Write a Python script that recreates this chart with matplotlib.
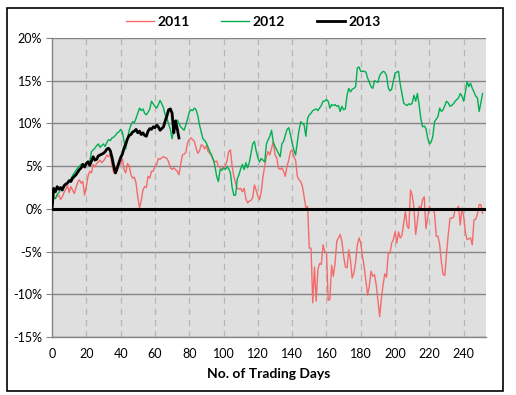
import numpy as np
import matplotlib
matplotlib.use("Agg")
import matplotlib.pyplot as plt
from matplotlib.patches import Rectangle
from matplotlib.ticker import FuncFormatter

series_names = ["2011", "2012", "2013"]

y2011 = [0.0, 1.3, 1.2, 1.5, 1.6, 1.1, 1.4, 1.9, 2.3, 2.8,
         1.9, 2.6, 2.2, 1.8, 2.5, 3.1, 3.4, 3.0, 3.2, 1.6,
         2.6, 3.8, 4.4, 4.2, 5.2, 4.9, 5.3, 5.5, 5.7, 5.4,
         5.6, 5.9, 6.3, 6.1, 6.5, 5.0, 4.2, 4.3, 4.4, 5.0,
         5.3, 5.9, 4.6, 4.2, 5.3, 5.0, 4.0, 3.6, 3.7, 3.0,
         1.4, 0.1, 0.9, 2.2, 2.6, 2.5, 3.8, 3.6, 4.4, 4.4,
         5.0, 5.2, 5.9, 5.8, 6.0, 6.1, 6.0, 5.9, 5.5, 4.8,
         4.6, 4.8, 4.6, 4.4, 4.0, 5.2, 6.3, 6.4, 6.6, 7.7,
         8.1, 8.3, 8.1, 7.9, 7.1, 6.5, 6.8, 7.5, 7.4, 7.0,
         7.4, 6.7, 6.5, 6.2, 5.7, 5.5, 5.6, 5.0, 4.8, 4.7,
         4.8, 5.0, 5.6, 6.7, 6.9, 5.0, 3.8, 3.0, 2.4, 2.3,
         2.4, 2.0, 2.4, 1.2, 0.7, 0.9, 1.0, 1.3, 2.8, 2.2,
         1.5, 1.1, 2.0, 3.8, 5.0, 6.1, 6.7, 6.3, 7.1, 7.9,
         6.3, 6.0, 4.8, 4.6, 4.8, 4.4, 3.8, 5.0, 5.7, 6.7,
         6.9, 6.1, 5.7, 3.8, 3.4, 3.2, 2.6, 1.4, 0.1, 0.3,
         -4.6, -4.6, -11.0, -6.8, -10.8, -7.1, -6.4, -6.5, -4.2, -5.0,
         -5.1, -10.7, -10.6, -6.6, -7.9, -6.4, -3.8, -3.4, -3.0, -3.8,
         -5.5, -6.8, -6.9, -4.8, -6.0, -8.1, -7.5, -6.2, -4.2, -3.4,
         -4.0, -5.6, -6.8, -8.5, -10.1, -9.0, -7.3, -7.9, -7.7, -8.9,
         -10.8, -12.6, -10.5, -8.9, -7.6, -8.0, -5.2, -5.2, -4.0, -3.6,
         -2.7, -4.0, -2.7, -3.4, -3.1, -1.7, -0.3, -2.0, -2.3, 2.2,
         1.6, 0.1, -3.0, -1.5, 0.3, -0.1, 1.1, 1.4, -2.3, -1.0,
         0.3, -0.1, 0.0, -0.5, -3.2, -3.2, -4.2, -6.2, -7.7, -7.8,
         -5.2, -3.0, -1.1, -1.1, -1.0, -0.1, 0.0, 0.3, -1.9, 0.1,
         -0.9, -2.8, -3.6, -3.5, -3.4, -4.2, -1.3, -1.2, -0.6, 0.5,
         0.5, -0.5]

y2012 = [0.0, 1.4, 1.2, 1.7, 1.9, 2.3, 2.2, 2.5, 2.9, 3.0,
         3.3, 3.5, 3.9, 4.2, 4.5, 4.8, 5.0, 5.2, 5.3, 5.1,
         5.4, 5.6, 5.5, 6.7, 6.9, 7.1, 7.4, 7.6, 7.2, 7.4,
         7.6, 7.3, 7.8, 8.1, 8.0, 8.3, 8.4, 8.6, 8.9, 9.0,
         9.3, 9.0, 7.9, 7.0, 8.2, 9.2, 9.8, 10.2, 10.1, 10.6,
         11.2, 11.8, 11.5, 11.7, 11.2, 11.0, 11.3, 11.7, 12.6, 12.3,
         12.0, 11.8, 12.2, 12.7, 12.3, 11.8, 11.0, 10.6, 9.9, 9.3,
         8.2, 9.4, 10.1, 10.4, 10.0, 9.6, 9.4, 9.2, 9.8, 10.5,
         11.3, 11.6, 11.5, 11.8, 11.6, 10.9, 9.8, 9.0, 8.2, 8.0,
         7.7, 7.2, 6.7, 6.3, 5.8, 5.0, 3.8, 3.2, 4.6, 4.5,
         4.8, 4.6, 4.9, 4.7, 4.2, 2.5, 1.6, 1.6, 3.5, 4.0,
         4.7, 5.2, 4.6, 5.4, 4.8, 5.4, 6.5, 7.6, 7.9, 6.8,
         6.0, 5.5, 5.9, 5.7, 5.5, 7.6, 8.1, 8.5, 9.2, 7.8,
         7.3, 6.9, 6.5, 6.1, 7.6, 7.9, 8.6, 9.3, 9.5, 8.7,
         7.7, 6.9, 6.3, 7.8, 9.2, 10.2, 10.0, 9.8, 8.5, 10.6,
         11.0, 11.2, 11.5, 11.6, 11.7, 11.5, 11.8, 12.1, 12.6, 12.6,
         12.8, 12.6, 11.8, 12.2, 12.1, 12.2, 12.0, 12.1, 11.4, 12.0,
         11.6, 11.7, 13.3, 14.1, 13.7, 14.0, 14.1, 14.3, 16.5, 16.6,
         16.1, 16.1, 16.1, 16.0, 15.3, 14.8, 14.3, 14.1, 15.0, 14.9,
         14.8, 15.6, 15.9, 16.1, 16.0, 15.6, 14.2, 13.8, 14.0, 15.0,
         15.9, 16.0, 16.1, 14.6, 13.5, 12.4, 12.2, 12.1, 12.3, 12.2,
         12.4, 13.3, 12.6, 13.5, 12.2, 10.6, 9.6, 9.7, 9.4, 8.3,
         7.6, 7.8, 8.5, 10.2, 10.5, 10.8, 11.8, 11.4, 11.6, 12.1,
         12.6, 12.4, 12.0, 12.1, 12.3, 12.6, 12.8, 13.0, 13.5, 13.2,
         12.6, 13.7, 14.9, 14.3, 14.7, 14.1, 13.7, 13.2, 13.0, 11.4,
         12.4, 13.5]

y2013 = [0.0, 2.4, 2.0, 2.6, 2.3, 2.5, 2.2, 2.7, 2.9, 3.0,
         3.3, 3.2, 3.6, 3.8, 4.0, 4.3, 4.6, 4.8, 5.2, 4.9,
         5.3, 5.5, 5.1, 5.6, 6.1, 5.7, 5.8, 6.2, 6.3, 6.4,
         6.5, 6.7, 7.0, 7.1, 6.8, 6.0, 5.0, 4.2, 4.8, 5.4,
         6.0, 6.4, 7.1, 7.6, 8.2, 8.6, 8.7, 9.0, 9.1, 9.3,
         8.9, 9.1, 8.7, 8.9, 8.6, 8.5, 9.1, 9.4, 9.3, 9.6,
         9.5, 9.8, 9.6, 9.2, 9.4, 9.6, 10.3, 10.9, 11.6, 11.7,
         11.2, 8.9, 10.3, 9.4, 8.3]

x_ticks = list(range(0, 241, 20))
y_ticks = [20, 15, 10, 5, 0, -5, -10, -15]
x_label = "No. of Trading Days"

FONT = "Lato"
fig = plt.figure(figsize=(5.16, 3.95), dpi=100)
ax = fig.add_axes([52/516, 1-337/395, (486-52)/516, (337-38)/395])
ax.set_facecolor("#dfdfdf")

ax.set_xlim(0, 253)
ax.set_ylim(-15, 20)
ax.set_yticks(y_ticks)
ax.set_xticks(x_ticks)
ax.yaxis.set_major_formatter(FuncFormatter(lambda v, p: f"{int(v)}%"))

for yv in y_ticks:
    if yv != 0:
        ax.axhline(yv, color="#858585", lw=1.0, zorder=1)
for xv in x_ticks[1:]:
    ax.axvline(xv, color="#b5b5b5", lw=0.9, ls=(0, (5, 4)), zorder=1)

for s in ["top", "right"]:
    ax.spines[s].set_visible(False)
for s in ["left", "bottom"]:
    ax.spines[s].set_color("#858585")
    ax.spines[s].set_linewidth(1.0)

ax.tick_params(axis="y", length=4, color="#858585", labelsize=9, pad=3)
ax.tick_params(axis="x", length=0, labelsize=9, pad=8)
for lab in ax.get_xticklabels() + ax.get_yticklabels():
    lab.set_fontfamily(FONT)

colors = ["#f36b6b", "#00b050", "#000000"]
widths = [1.0, 1.0, 2.0]
data = [y2011, y2012, y2013]
handles = []
for name, vals, c, w in zip(series_names, data, colors, widths):
    h, = ax.plot(np.arange(len(vals)), vals, color=c, lw=w, label=name, zorder=3)
    handles.append(h)

ax.axhline(0, color="black", lw=2.2, zorder=4)

leg = fig.legend(handles=handles, labels=series_names, loc="center",
                 bbox_to_anchor=(253/516, 1-22/395), ncol=3, frameon=False,
                 handlelength=2.0, columnspacing=2.3, handletextpad=0.25,
                 prop={"family": FONT, "weight": "bold", "size": 10})

ax.set_xlabel(x_label, fontfamily=FONT, fontweight="bold", fontsize=10, labelpad=6)

fig.patches.append(Rectangle((7/516, 1-391/395), (503-7)/516, (391-8)/395,
                             transform=fig.transFigure, fill=False,
                             edgecolor="black", lw=1.2))

fig.savefig("out.png", dpi=100)
